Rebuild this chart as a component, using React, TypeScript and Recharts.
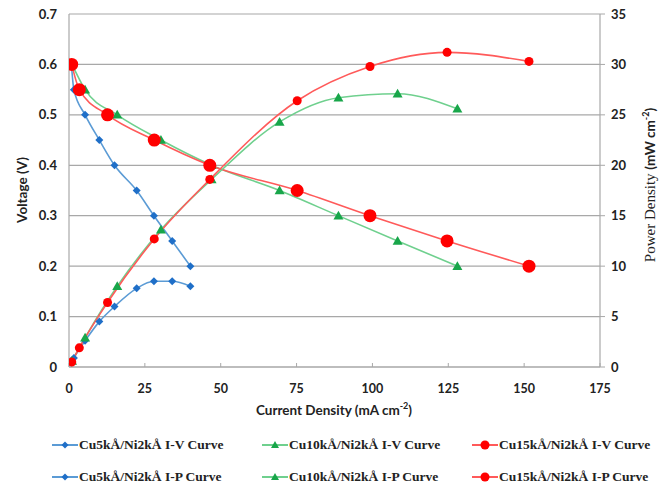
import React from "react"
import {
  ComposedChart,
  Line,
  XAxis,
  YAxis,
  CartesianGrid,
} from "recharts"

// current density (mA cm-2) and readings for each cell
const cu5Current = [0.8, 1.6, 5.3, 10, 15, 22.3, 28, 34, 40]
const cu5Voltage = [0.6, 0.55, 0.5, 0.45, 0.4, 0.35, 0.3, 0.25, 0.2]
const cu5Power = [0.45, 0.9, 2.6, 4.5, 6.0, 7.8, 8.5, 8.5, 8.0]

const cu10Current = [1, 5.3, 15.9, 30.3, 47, 69.4, 88.8, 108.3, 128]
const cu10Voltage = [0.6, 0.55, 0.5, 0.45, 0.4, 0.35, 0.3, 0.25, 0.2]
const cu10Power = [0.6, 2.9, 8.0, 13.6, 18.6, 24.3, 26.7, 27.1, 25.6]

const cu15Current = [0.9, 3.4, 12.7, 28.1, 46.4, 75.2, 99.2, 124.6, 151.6]
const cu15Voltage = [0.6, 0.55, 0.5, 0.45, 0.4, 0.35, 0.3, 0.25, 0.2]
const cu15Power = [0.5, 1.9, 6.4, 12.7, 18.6, 26.4, 29.8, 31.2, 30.3]

const xTicks = [0, 25, 50, 75, 100, 125, 150, 175]
const voltTicks = [0, 0.1, 0.2, 0.3, 0.4, 0.5, 0.6, 0.7]
const powerTicks = [0, 5, 10, 15, 20, 25, 30, 35]

const legendNames = [
  "Cu5kÅ/Ni2kÅ I-V Curve",
  "Cu10kÅ/Ni2kÅ I-V Curve",
  "Cu15kÅ/Ni2kÅ I-V Curve",
  "Cu5kÅ/Ni2kÅ I-P Curve",
  "Cu10kÅ/Ni2kÅ I-P Curve",
  "Cu15kÅ/Ni2kÅ I-P Curve",
]

const toRows = (xs: number[], ys: number[]) => xs.map((x, i) => ({ x, y: ys[i] }))

const BLUE_LINE = "#5b9bd5"
const BLUE = "#1f6fc8"
const GREEN_LINE = "#6fd08e"
const GREEN = "#18a64a"
const RED_LINE = "#ff5a5a"
const RED = "#ff0000"

const sansBold = { fontFamily: "Lato, 'Open Sans', sans-serif", fontWeight: 700 }

type Shape = "diamond" | "triangle" | "circle"

function marker(shape: Shape, fill: string, r: number) {
  return (props: any) => {
    const { cx, cy, index } = props
    if (cx == null || cy == null) return <g key={index} />
    if (shape === "diamond") {
      return (
        <path
          key={index}
          d={`M${cx},${cy - r} L${cx + r},${cy} L${cx},${cy + r} L${cx - r},${cy} Z`}
          fill={fill}
        />
      )
    }
    if (shape === "triangle") {
      return (
        <path
          key={index}
          d={`M${cx},${cy - r} L${cx + r},${cy + r * 0.75} L${cx - r},${cy + r * 0.75} Z`}
          fill={fill}
        />
      )
    }
    return <circle key={index} cx={cx} cy={cy} r={r} fill={fill} />
  }
}

const series = [
  { name: legendNames[0], data: toRows(cu5Current, cu5Voltage), axis: "v", line: BLUE_LINE, fill: BLUE, shape: "diamond" as Shape, r: 4 },
  { name: legendNames[1], data: toRows(cu10Current, cu10Voltage), axis: "v", line: GREEN_LINE, fill: GREEN, shape: "triangle" as Shape, r: 5 },
  { name: legendNames[2], data: toRows(cu15Current, cu15Voltage), axis: "v", line: RED_LINE, fill: RED, shape: "circle" as Shape, r: 6.5 },
  { name: legendNames[3], data: toRows(cu5Current, cu5Power), axis: "p", line: BLUE_LINE, fill: BLUE, shape: "diamond" as Shape, r: 4 },
  { name: legendNames[4], data: toRows(cu10Current, cu10Power), axis: "p", line: GREEN_LINE, fill: GREEN, shape: "triangle" as Shape, r: 5 },
  { name: legendNames[5], data: toRows(cu15Current, cu15Power), axis: "p", line: RED_LINE, fill: RED, shape: "circle" as Shape, r: 4.5 },
]

function LeftTitle() {
  return (
    <text x={22} y={190} transform="rotate(-90 22 190)" textAnchor="middle" dominantBaseline="central" fontSize={13.5} fill="#222" style={sansBold}>
      Voltage (V)
    </text>
  )
}

function RightTitle() {
  return (
    <text x={650} y={185} transform="rotate(-90 650 185)" textAnchor="middle" dominantBaseline="central" fill="#222">
      <tspan fontFamily="'Liberation Serif', serif" fontSize={15}>Power Density </tspan>
      <tspan style={sansBold} fontSize={13.5}>(mW cm</tspan>
      <tspan style={sansBold} fontSize={9} dy={-5}>-2</tspan>
      <tspan style={sansBold} fontSize={13.5} dy={5}>)</tspan>
    </text>
  )
}

function BottomTitle() {
  return (
    <text x={334} y={410} textAnchor="middle" dominantBaseline="central" fill="#222">
      <tspan style={sansBold} fontSize={13.5}>Current Density (mA cm</tspan>
      <tspan style={sansBold} fontSize={9} dy={-5}>-2</tspan>
      <tspan style={sansBold} fontSize={13.5} dy={5}>)</tspan>
    </text>
  )
}

function LegendIcon({ s }: { s: (typeof series)[number] }) {
  const r = s.shape === "circle" ? 4.5 : s.shape === "triangle" ? 4 : 3.5
  const Dot = marker(s.shape, s.fill, r)
  return (
    <svg width={26} height={12} style={{ display: "block" }}>
      <line x1={0} y1={6} x2={26} y2={6} stroke={s.line} strokeWidth={2} />
      {Dot({ cx: 13, cy: 6, index: 0 })}
    </svg>
  )
}

const legendCols = [52, 262, 472]
const legendRows = [445, 477]

export default function App() {
  return (
    <div style={{ position: "absolute", left: 0, top: 0, width: 672, height: 487, background: "#fff" }}>
      <ComposedChart width={672} height={430} margin={{ top: 14, right: 0, bottom: 0, left: 0 }}>
        <CartesianGrid yAxisId="v" vertical={false} stroke="#a8a8a8" strokeWidth={1.2} />
        <XAxis
          dataKey="x"
          type="number"
          domain={[0, 175]}
          ticks={xTicks}
          height={63}
          axisLine={{ stroke: "#a8a8a8", strokeWidth: 1.2 }}
          tickLine={{ stroke: "#a8a8a8" }}
          tickSize={-4}
          tickMargin={21}
          tick={{ fill: "#222", fontSize: 12.5, ...sansBold }}
          allowDataOverflow
        />
        <YAxis
          yAxisId="v"
          orientation="left"
          domain={[0, 0.7]}
          ticks={voltTicks}
          width={69}
          axisLine={{ stroke: "#a8a8a8", strokeWidth: 1.2 }}
          tickLine={false}
          tickSize={0}
          tickMargin={12}
          tickFormatter={(v: number) => (v === 0 ? "0" : v.toFixed(1))}
          tick={{ fill: "#222", fontSize: 13, ...sansBold }}
          allowDataOverflow
        />
        <YAxis
          yAxisId="p"
          orientation="right"
          domain={[0, 35]}
          ticks={powerTicks}
          width={72}
          axisLine={{ stroke: "#a8a8a8", strokeWidth: 1.2 }}
          tickLine={{ stroke: "#a8a8a8" }}
          tickSize={5}
          tickMargin={6}
          tick={{ fill: "#222", fontSize: 13, ...sansBold }}
          allowDataOverflow
        />
        {series.map((s) => (
          <Line
            key={s.name}
            name={s.name}
            data={s.data}
            dataKey="y"
            yAxisId={s.axis}
            type="monotone"
            stroke={s.line}
            strokeWidth={1.6}
            dot={marker(s.shape, s.fill, s.r)}
            activeDot={false}
            isAnimationActive={false}
          />
        ))}
        <LeftTitle />
        <RightTitle />
        <BottomTitle />
      </ComposedChart>
      {series.map((s, i) => (
        <div
          key={s.name}
          style={{
            position: "absolute",
            left: legendCols[i % 3],
            top: legendRows[Math.floor(i / 3)] - 9,
            height: 18,
            display: "flex",
            alignItems: "center",
            gap: 1,
            fontFamily: "'Liberation Serif', serif",
            fontWeight: 700,
            fontSize: 13.5,
            color: "#222",
            whiteSpace: "nowrap",
          }}
        >
          <LegendIcon s={s} />
          <span>{s.name}</span>
        </div>
      ))}
    </div>
  )
}
